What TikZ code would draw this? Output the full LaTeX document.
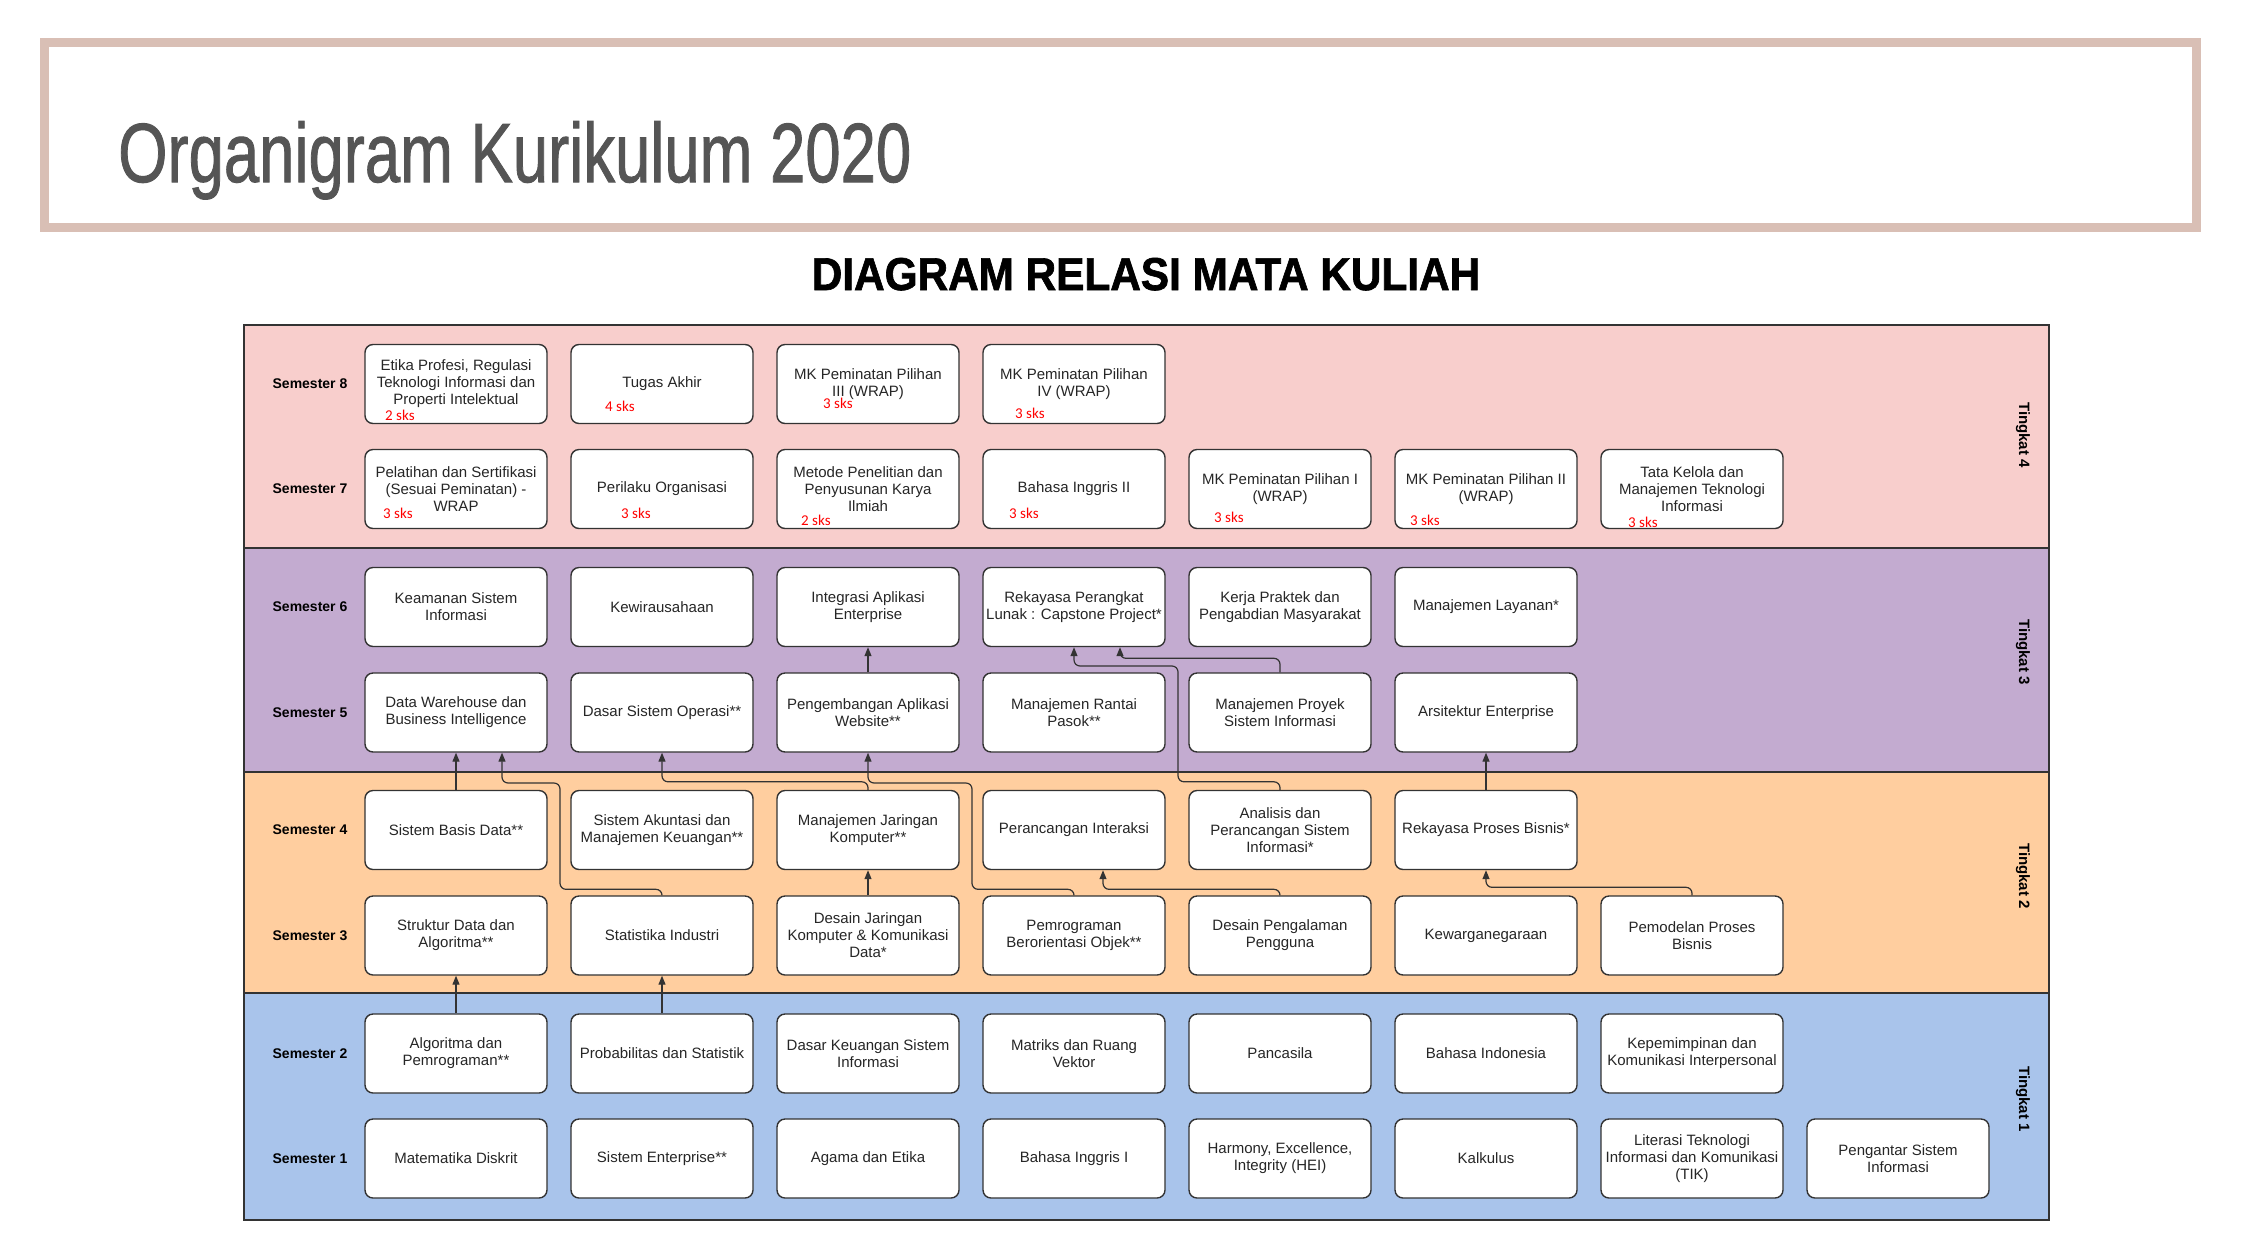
\documentclass[tikz,border=0pt]{standalone}
\usepackage{graphicx}
\usepackage{fontspec}
\setmainfont{Liberation Sans}
\newfontfamily\sksfont{Carlito}
\newfontfamily\judulfont[FakeBold=1.2]{Liberation Sans}
\newfontfamily\subjudulfont[FakeBold=1.5]{Liberation Sans Bold}
\usetikzlibrary{arrows.meta}
\definecolor{tkpink}{HTML}{F8CECC}
\definecolor{tkungu}{HTML}{C3ABD0}
\definecolor{tkoranye}{HTML}{FFCE9F}
\definecolor{tkbiru}{HTML}{A9C4EB}
\definecolor{bingkai}{HTML}{D9BFB5}
\definecolor{garis}{HTML}{333333}
\definecolor{judul}{HTML}{555555}
\begin{document}
\begin{tikzpicture}[>={Triangle[length=9pt,width=7pt]},x=1pt,y=-1pt,
	mk/.style={draw=garis,line width=1.4pt,fill=white,rounded corners=8pt,minimum width=182pt,minimum height=79pt,inner sep=0pt,align=center,text=black!85,font=\fontsize{15}{17}\selectfont},
	sem/.style={font=\fontsize{14}{16}\selectfont\bfseries},
	tk/.style={font=\fontsize{15}{17}\selectfont\bfseries,rotate=-90},
	sks/.style={anchor=west,inner sep=0pt,text=red,font=\sksfont\fontsize{15}{15}\selectfont},
	rel/.style={->,draw=garis,line width=1.2pt,rounded corners=6pt}]
	\useasboundingbox[fill=white] (0,0) rectangle (2258,1232);
	% judul
	\draw[bingkai,line width=9pt] (44.5,42.5) rectangle (2196.5,227.5);
	\node[anchor=base west,inner sep=0pt,text=judul,font=\judulfont\fontsize{84}{84}\selectfont] (judulutama) at (118,182) {\scalebox{0.755}[1]{Organigram Kurikulum 2020}};
	\node[anchor=base,inner sep=0pt,font=\subjudulfont\fontsize{46}{46}\selectfont] (subjudul) at (1146,290) {\scalebox{0.92}[1]{DIAGRAM RELASI MATA KULIAH}};
	% tingkat
	\filldraw[fill=tkpink,draw=garis,line width=1.5pt] (244,325) rectangle (2049,548);
	\filldraw[fill=tkungu,draw=garis,line width=1.5pt] (244,548) rectangle (2049,772);
	\filldraw[fill=tkoranye,draw=garis,line width=1.5pt] (244,772) rectangle (2049,993);
	\filldraw[fill=tkbiru,draw=garis,line width=1.5pt] (244,993) rectangle (2049,1220);
	\node[tk] (tk4) at (2023,435) {Tingkat 4};
	\node[tk] (tk3) at (2023,652) {Tingkat 3};
	\node[tk] (tk2) at (2023,876) {Tingkat 2};
	\node[tk] (tk1) at (2023,1099) {Tingkat 1};
	\node[sem] (sem8) at (310,384) {Semester 8};
	\node[sem] (sem7) at (310,489) {Semester 7};
	\node[sem] (sem6) at (310,607) {Semester 6};
	\node[sem] (sem5) at (310,712.5) {Semester 5};
	\node[sem] (sem4) at (310,830) {Semester 4};
	\node[sem] (sem3) at (310,935.5) {Semester 3};
	\node[sem] (sem2) at (310,1053.5) {Semester 2};
	\node[sem] (sem1) at (310,1158.5) {Semester 1};
	% semester 8
	\node[mk] (s8c1) at (456,384) {Etika Profesi, Regulasi\\Teknologi Informasi dan\\Properti Intelektual};
	\node[mk] (s8c2) at (662,384) {Tugas Akhir};
	\node[mk] (s8c3) at (868,384) {MK Peminatan Pilihan\\III (WRAP)};
	\node[mk] (s8c4) at (1074,384) {MK Peminatan Pilihan\\IV (WRAP)};
	% semester 7
	\node[mk] (s7c1) at (456,489) {Pelatihan dan Sertifikasi\\(Sesuai Peminatan) -\\WRAP};
	\node[mk] (s7c2) at (662,489) {Perilaku Organisasi};
	\node[mk] (s7c3) at (868,489) {Metode Penelitian dan\\Penyusunan Karya\\Ilmiah};
	\node[mk] (s7c4) at (1074,489) {Bahasa Inggris II};
	\node[mk] (s7c5) at (1280,489) {MK Peminatan Pilihan I\\(WRAP)};
	\node[mk] (s7c6) at (1486,489) {MK Peminatan Pilihan II\\(WRAP)};
	\node[mk] (s7c7) at (1692,489) {Tata Kelola dan\\Manajemen Teknologi\\Informasi};
	% sks
	\node[sks] (sks8a) at (385,415) {2 sks};
	\node[sks] (sks8b) at (605,406) {4 sks};
	\node[sks] (sks8c) at (823,403) {3 sks};
	\node[sks] (sks8d) at (1015,413) {3 sks};
	\node[sks] (sks7a) at (383,513) {3 sks};
	\node[sks] (sks7b) at (621,513) {3 sks};
	\node[sks] (sks7c) at (801,520) {2 sks};
	\node[sks] (sks7d) at (1009,513) {3 sks};
	\node[sks] (sks7e) at (1214,517) {3 sks};
	\node[sks] (sks7f) at (1410,520) {3 sks};
	\node[sks] (sks7g) at (1628,522) {3 sks};
	% semester 6
	\node[mk] (s6c1) at (456,607) {Keamanan Sistem\\Informasi};
	\node[mk] (s6c2) at (662,607) {Kewirausahaan};
	\node[mk] (s6c3) at (868,607) {Integrasi Aplikasi\\Enterprise};
	\node[mk] (s6c4) at (1074,607) {Rekayasa Perangkat\\Lunak : Capstone Project*};
	\node[mk] (s6c5) at (1280,607) {Kerja Praktek dan\\Pengabdian Masyarakat};
	\node[mk] (s6c6) at (1486,607) {Manajemen Layanan*};
	% semester 5
	\node[mk] (s5c1) at (456,712.5) {Data Warehouse dan\\Business Intelligence};
	\node[mk] (s5c2) at (662,712.5) {Dasar Sistem Operasi**};
	\node[mk] (s5c3) at (868,712.5) {Pengembangan Aplikasi\\Website**};
	\node[mk] (s5c4) at (1074,712.5) {Manajemen Rantai\\Pasok**};
	\node[mk] (s5c5) at (1280,712.5) {Manajemen Proyek\\Sistem Informasi};
	\node[mk] (s5c6) at (1486,712.5) {Arsitektur Enterprise};
	% semester 4
	\node[mk] (s4c1) at (456,830) {Sistem Basis Data**};
	\node[mk] (s4c2) at (662,830) {Sistem Akuntasi dan\\Manajemen Keuangan**};
	\node[mk] (s4c3) at (868,830) {Manajemen Jaringan\\Komputer**};
	\node[mk] (s4c4) at (1074,830) {Perancangan Interaksi};
	\node[mk] (s4c5) at (1280,830) {Analisis dan\\Perancangan Sistem\\Informasi*};
	\node[mk] (s4c6) at (1486,830) {Rekayasa Proses Bisnis*};
	% semester 3
	\node[mk] (s3c1) at (456,935.5) {Struktur Data dan\\Algoritma**};
	\node[mk] (s3c2) at (662,935.5) {Statistika Industri};
	\node[mk] (s3c3) at (868,935.5) {Desain Jaringan\\Komputer \& Komunikasi\\Data*};
	\node[mk] (s3c4) at (1074,935.5) {Pemrograman\\Berorientasi Objek**};
	\node[mk] (s3c5) at (1280,935.5) {Desain Pengalaman\\Pengguna};
	\node[mk] (s3c6) at (1486,935.5) {Kewarganegaraan};
	\node[mk] (s3c7) at (1692,935.5) {Pemodelan Proses\\Bisnis};
	% semester 2
	\node[mk] (s2c1) at (456,1053.5) {Algoritma dan\\Pemrograman**};
	\node[mk] (s2c2) at (662,1053.5) {Probabilitas dan Statistik};
	\node[mk] (s2c3) at (868,1053.5) {Dasar Keuangan Sistem\\Informasi};
	\node[mk] (s2c4) at (1074,1053.5) {Matriks dan Ruang\\Vektor};
	\node[mk] (s2c5) at (1280,1053.5) {Pancasila};
	\node[mk] (s2c6) at (1486,1053.5) {Bahasa Indonesia};
	\node[mk] (s2c7) at (1692,1053.5) {Kepemimpinan dan\\Komunikasi Interpersonal};
	% semester 1
	\node[mk] (s1c1) at (456,1158.5) {Matematika Diskrit};
	\node[mk] (s1c2) at (662,1158.5) {Sistem Enterprise**};
	\node[mk] (s1c3) at (868,1158.5) {Agama dan Etika};
	\node[mk] (s1c4) at (1074,1158.5) {Bahasa Inggris I};
	\node[mk] (s1c5) at (1280,1158.5) {Harmony, Excellence,\\Integrity (HEI)};
	\node[mk] (s1c6) at (1486,1158.5) {Kalkulus};
	\node[mk] (s1c7) at (1692,1158.5) {Literasi Teknologi\\Informasi dan Komunikasi\\(TIK)};
	\node[mk] (s1c8) at (1898,1158.5) {Pengantar Sistem\\Informasi};
	% relasi
	\draw[rel] (s2c1.north) -- (s3c1.south);
	\draw[rel] (s2c2.north) -- (s3c2.south);
	\draw[rel] (s3c3.north) -- (s4c3.south);
	\draw[rel] (s4c1.north) -- (s5c1.south);
	\draw[rel] (s3c2.north) -- ++(0,-6) -| (560,783) -| ([xshift=46pt]s5c1.south);
	\draw[rel] (s4c3.north) -- ++(0,-8) -| (s5c2.south);
	\draw[rel] (s3c4.north) -- ++(0,-6) -| (972,783) -| (s5c3.south);
	\draw[rel] (s5c3.north) -- (s6c3.south);
	\draw[rel] (s3c5.north) -- ++(0,-6) -| ([xshift=29pt]s4c4.south);
	\draw[rel] (s4c5.north) -- ++(0,-8) -| (1178,666) -| (s6c4.south);
	\draw[rel] (s5c5.north) -- ++(0,-14) -| ([xshift=46pt]s6c4.south);
	\draw[rel] (s4c6.north) -- (s5c6.south);
	\draw[rel] (s3c7.north) -- ++(0,-8) -| (s4c6.south);
\end{tikzpicture}
\end{document}
